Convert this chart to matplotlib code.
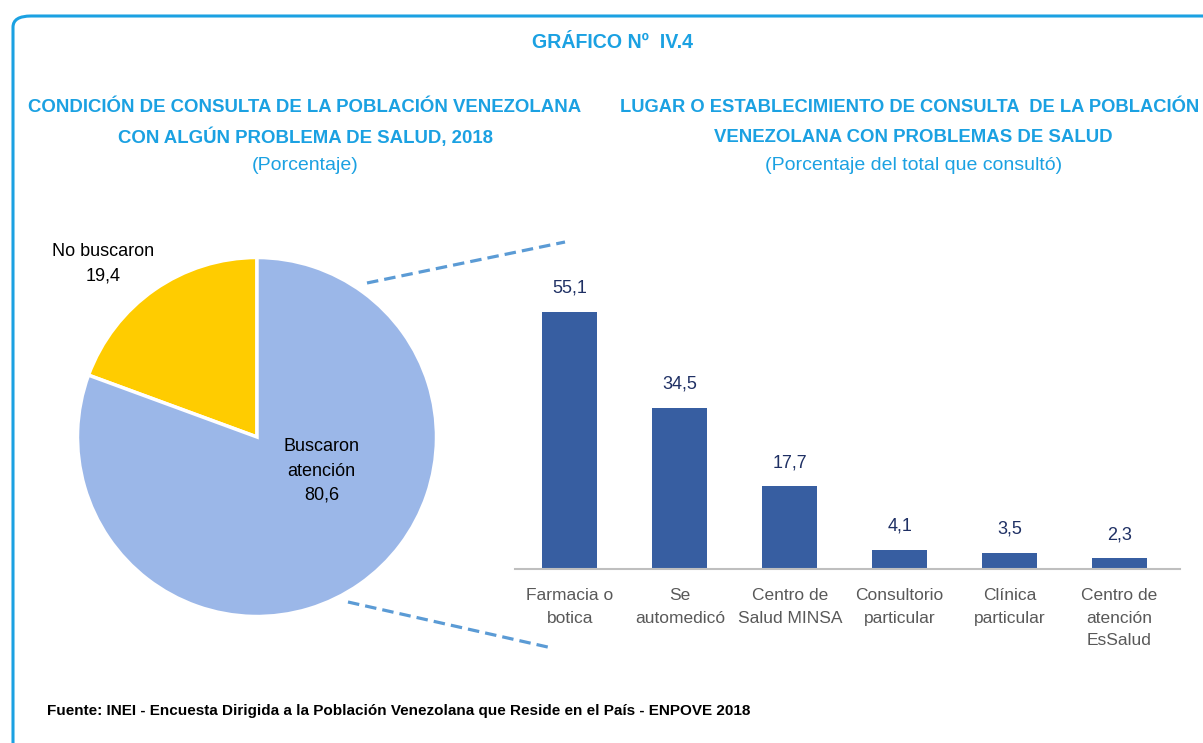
import matplotlib
matplotlib.use("Agg")
import matplotlib.pyplot as plt
from matplotlib.patches import FancyBboxPatch
from matplotlib.lines import Line2D

# ---- data ----
pie_labels = ["No buscaron", "Buscaron\natención"]
pie_values = [19.4, 80.6]
bar_categories = ["Farmacia o\nbotica", "Se\nautomedicó", "Centro de\nSalud MINSA",
                  "Consultorio\nparticular", "Clínica\nparticular", "Centro de\natención\nEsSalud"]
bar_values = [55.1, 34.5, 17.7, 4.1, 3.5, 2.3]

W, H = 1203, 743
plt.rcParams['font.family'] = ["Liberation Sans", "DejaVu Sans"]

fig = plt.figure(figsize=(W / 100, H / 100), dpi=100)
renderer = fig.canvas.get_renderer()

def fx(px):
    return px / W

def fy(py):
    return (H - py) / H

def fit(t, target_px):
    w = t.get_window_extent(renderer).width
    t.set_fontsize(t.get_fontsize() * target_px / w)
    return t.get_fontsize()

TITLE_C = "#1BA1E2"

# border
border = FancyBboxPatch((fx(13), fy(780)), fx(1260), fy(16) - fy(780),
                        boxstyle="round,pad=0,rounding_size=0.015",
                        transform=fig.transFigure, fill=False,
                        edgecolor=TITLE_C, linewidth=2.2, clip_on=False)
fig.add_artist(border)

# titles
t = fig.text(fx(612), fy(42), "GRÁFICO Nº  IV.4", ha="center", va="center",
             color=TITLE_C, fontsize=14, fontweight="bold")
fit(t, 162)
t1 = fig.text(fx(305), fy(108), "CONDICIÓN DE CONSULTA DE LA POBLACIÓN VENEZOLANA",
              ha="center", va="center", color=TITLE_C, fontsize=14, fontweight="bold")
fs_t = fit(t1, 555)
fig.text(fx(305), fy(137), "CON ALGÚN PROBLEMA DE SALUD, 2018",
         ha="center", va="center", color=TITLE_C, fontsize=fs_t, fontweight="bold")
t = fig.text(fx(305), fy(166), "(Porcentaje)", ha="center", va="center", color=TITLE_C, fontsize=14)
fs_s = fit(t, 107)
t = fig.text(fx(620), fy(108), "LUGAR O ESTABLECIMIENTO DE CONSULTA  DE LA POBLACIÓN",
             ha="left", va="center", color=TITLE_C, fontsize=fs_t, fontweight="bold")
fit(t, 578)
fig.text(fx(913), fy(137), "VENEZOLANA CON PROBLEMAS DE SALUD",
         ha="center", va="center", color=TITLE_C, fontsize=fs_t, fontweight="bold")
fig.text(fx(914), fy(166), "(Porcentaje del total que consultó)", ha="center", va="center",
         color=TITLE_C, fontsize=fs_s)

# ---- pie ----
cx, cy, r = 257, 437, 179.5
axp = fig.add_axes([fx(cx - r), fy(cy + r), fx(2 * r), (2 * r) / H])
axp.pie(pie_values, colors=["#FFCC00", "#9BB7E8"], startangle=90, counterclock=True,
        wedgeprops=dict(edgecolor="white", linewidth=2.5), radius=1)
axp.set_xlim(-1, 1)
axp.set_ylim(-1, 1)
axp.set_aspect("equal")
axp.axis("off")

def fmt(v):
    return f"{v:.1f}".replace(".", ",")

label_pos = [(-0.858, 0.965), (0.36, -0.19)]
for lab, v, (lx, ly) in zip(pie_labels, pie_values, label_pos):
    axp.text(lx, ly, f"{lab}\n{fmt(v)}", ha="center", va="center", fontsize=13,
             color="black", linespacing=1.55, clip_on=False)

# ---- bars ----
bx0, bx1 = 515, 1180
by0, byt = 569, 289
axb = fig.add_axes([fx(bx0), fy(by0), fx(bx1 - bx0), (by0 - byt) / H])
x = list(range(len(bar_values)))
bars = axb.bar(x, bar_values, width=0.5, color="#375EA1")
axb.set_xlim(-0.5, len(bar_values) - 0.45)
axb.set_ylim(0, 60)
for s in ["top", "right", "left"]:
    axb.spines[s].set_visible(False)
axb.spines["bottom"].set_color("#BFBFBF")
axb.spines["bottom"].set_linewidth(1.5)
axb.set_yticks([])
axb.set_xticks(x)
axb.set_xticklabels(bar_categories, fontsize=12.5, color="#595959", linespacing=1.6, va="top")
axb.tick_params(axis="x", length=0, pad=14)
for xi, v in zip(x, bar_values):
    axb.annotate(fmt(v), (xi, v), xytext=(0, 17), textcoords="offset points",
                 ha="center", va="center", fontsize=13, color="#1F3064")

# dashed connectors
for (x0, y0, x1, y1) in [(367, 283, 565, 242), (348, 602, 552, 648)]:
    fig.add_artist(Line2D([fx(x0), fx(x1)], [fy(y0), fy(y1)], transform=fig.transFigure,
                          color="#5B9BD5", linewidth=2.3, dashes=(3.6, 1.9)))

# source
t = fig.text(fx(47), fy(711), "Fuente: INEI - Encuesta Dirigida a la Población Venezolana que Reside en el País - ENPOVE 2018",
             ha="left", va="center", fontsize=11, fontweight="bold", color="black")
fit(t, 701)

fig.savefig("out.png", dpi=100)
